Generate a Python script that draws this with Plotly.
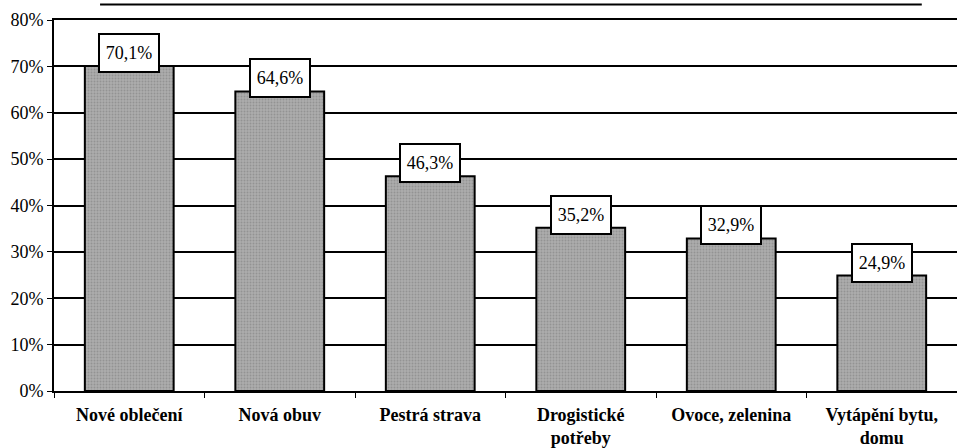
import plotly.graph_objects as go

categories = ["Nové oblečení", "Nová obuv", "Pestrá strava", "Drogistické<br>potřeby",
              "Ovoce, zelenina", "Vytápění bytu,<br>domu"]
values = [70.1, 64.6, 46.3, 35.2, 32.9, 24.9]
labels = ["70,1%", "64,6%", "46,3%", "35,2%", "32,9%", "24,9%"]
y_ticks = [0, 10, 20, 30, 40, 50, 60, 70, 80]
y_tick_text = [f"{v}%" for v in y_ticks]

serif = "Liberation Serif"

fig = go.Figure()
fig.add_trace(go.Bar(
    x=categories, y=values, width=0.59,
    marker=dict(color="#a3a3a3", line=dict(color="black", width=2),
                pattern=dict(shape=".", fgcolor="#7a7a7a", bgcolor="#acacac", size=3, solidity=0.3)),
    hoverinfo="skip",
))

for c, v, t in zip(categories, values, labels):
    fig.add_annotation(x=c, y=v, text=t, showarrow=False, yanchor="bottom", yshift=-7,
                       bgcolor="white", bordercolor="black", borderwidth=2,
                       width=58, height=36, borderpad=0,
                       font=dict(family=serif, size=18, color="black"))

fig.add_shape(type="line", xref="paper", yref="paper", x0=0.051, x1=0.961, y0=1.042, y1=1.042,
              line=dict(color="black", width=2))

fig.update_layout(
    width=957, height=448,
    margin=dict(l=54, r=0, t=20, b=57),
    paper_bgcolor="white", plot_bgcolor="white",
    showlegend=False,
    font=dict(family=serif, color="black"),
)
fig.update_xaxes(
    type="category", range=[-0.5, 5.5],
    showline=True, linecolor="black", linewidth=2, mirror=True,
    ticks="outside", tickson="boundaries", ticklen=5, tickcolor="black", tickwidth=1,
    tickfont=dict(family=serif, size=18, color="black", weight="bold"),
    ticklabelstandoff=6, showgrid=False,
)
fig.update_yaxes(
    range=[0, 80], tickvals=y_ticks, ticktext=y_tick_text,
    showline=True, linecolor="black", linewidth=2,
    ticks="outside", ticklen=5, tickcolor="black", tickwidth=1,
    showgrid=True, gridcolor="black", gridwidth=2,
    tickfont=dict(family=serif, size=18, color="black"),
    zeroline=False,
)

fig.write_html("out.html", config={"displayModeBar": False},
               post_script="document.body.style.margin='0';")
